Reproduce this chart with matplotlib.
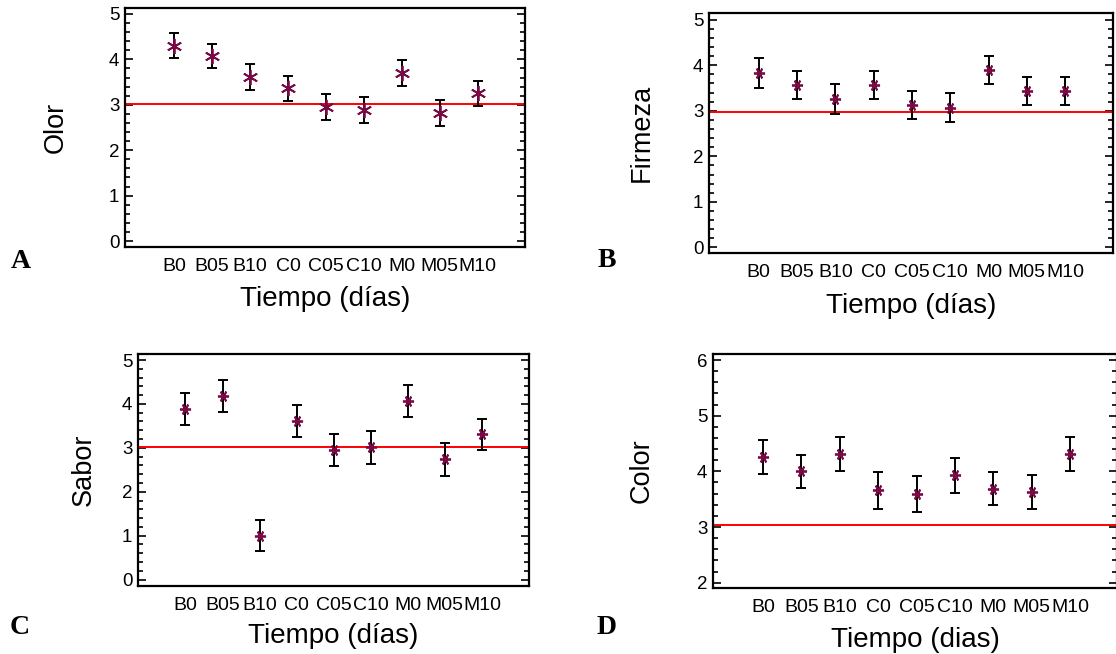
import numpy as np
import matplotlib
matplotlib.use("Agg")
import matplotlib.pyplot as plt
from matplotlib.ticker import AutoMinorLocator

plt.rcParams['font.family'] = ['Liberation Sans', 'DejaVu Sans']

# Treatments on the x axis
categories = ["B0", "B05", "B10", "C0", "C05", "C10", "M0", "M05", "M10"]

# Mean sensory scores and half-widths of their intervals
olor = [4.30, 4.07, 3.61, 3.36, 2.95, 2.88, 3.70, 2.82, 3.25]
olor_err = [0.28, 0.27, 0.28, 0.27, 0.28, 0.29, 0.28, 0.29, 0.27]
olor_ref = 3.02

firmeza = [3.83, 3.56, 3.26, 3.56, 3.13, 3.07, 3.89, 3.44, 3.44]
firmeza_err = [0.32, 0.31, 0.33, 0.31, 0.31, 0.31, 0.31, 0.31, 0.31]
firmeza_ref = 2.97

sabor = [3.88, 4.18, 1.00, 3.61, 2.95, 3.01, 4.06, 2.74, 3.31]
sabor_err = [0.36, 0.37, 0.35, 0.37, 0.37, 0.37, 0.36, 0.38, 0.35]
sabor_ref = 3.01

color = [4.26, 4.00, 4.31, 3.66, 3.59, 3.93, 3.69, 3.63, 4.31]
color_err = [0.30, 0.29, 0.30, 0.33, 0.32, 0.31, 0.30, 0.31, 0.30]
color_ref = 3.03

W, H = 1116, 654
fig = plt.figure(figsize=(W / 100, H / 100), dpi=100)

MARK = "#7a0a45"


def box(l, t, r, b):
    return fig.add_axes([l / W, 1 - b / H, (r - l) / W, (b - t) / H])


def panel(ax, values, errs, ref, ylabel, xlabel, ylim, yticks, letter,
          letter_xy, xlim, ylab_off, xlab_off, marker, msize):
    x = np.arange(1, len(categories) + 1)
    ax.errorbar(x, values, yerr=errs, fmt="none", ecolor="black",
                elinewidth=1.4, capsize=3.6, capthick=1.4, zorder=3)
    ax.plot(x, values, linestyle="none", marker=marker, markersize=msize,
            markeredgewidth=1.3, color=MARK, zorder=4)
    ax.axhline(ref, color="red", linewidth=1.4, zorder=2)
    ax.set_xlim(*xlim)
    ax.set_ylim(*ylim)
    ax.set_xticks(x)
    ax.set_xticklabels(categories, fontsize=14)
    ax.set_yticks(yticks)
    ax.yaxis.set_minor_locator(AutoMinorLocator(5))
    ax.tick_params(axis="x", length=0, pad=8)
    ax.tick_params(axis="y", which="both", direction="in", left=True,
                   right=True, labelsize=13.5, pad=4, width=1.2)
    ax.tick_params(axis="y", which="major", length=6)
    ax.tick_params(axis="y", which="minor", length=3.5)
    for s in ax.spines.values():
        s.set_linewidth(1.6)

    hpx = ax.get_position().height * H
    wpx = ax.get_position().width * W
    ax.set_xlabel(xlabel, fontsize=20)
    ax.xaxis.label.set_va("center")
    ax.xaxis.set_label_coords(0.5, -xlab_off / hpx)
    ax.set_ylabel(ylabel, fontsize=19.5)
    ax.yaxis.label.set_va("center")
    ax.yaxis.set_label_coords(-ylab_off / wpx, 0.5)

    fig.text(letter_xy[0] / W, 1 - letter_xy[1] / H, letter,
             family="Liberation Serif", fontweight="bold", fontsize=20,
             ha="center", va="center")


axA = box(125, 8, 525, 247)
panel(axA, olor, olor_err, olor_ref, "Olor", "Tiempo (días)",
      (-0.13, 5.13), range(0, 6), "A", (21, 262), (-0.3, 10.25),
      69, 52, (6, 2, 0), 11)

axB = box(709, 13, 1113, 253)
panel(axB, firmeza, firmeza_err, firmeza_ref, "Firmeza", "Tiempo (días)",
      (-0.124, 5.147), range(0, 6), "B", (607, 261), (-0.3, 10.25),
      67, 53, (6, 2, 90), 8)

axC = box(138, 354, 529, 586)
panel(axC, sabor, sabor_err, sabor_ref, "Sabor", "Tiempo (días)",
      (-0.146, 5.137), range(0, 6), "C", (20, 627), (-0.28, 10.27),
      54, 50, (6, 2, 90), 8)

axD = box(713, 354, 1117, 588)
panel(axD, color, color_err, color_ref, "Color", "Tiempo (dias)",
      (1.905, 6.108), range(2, 7), "D", (607, 627), (-0.3, 10.22),
      71, 52, (6, 2, 90), 8)

fig.savefig("out.png", dpi=100)
